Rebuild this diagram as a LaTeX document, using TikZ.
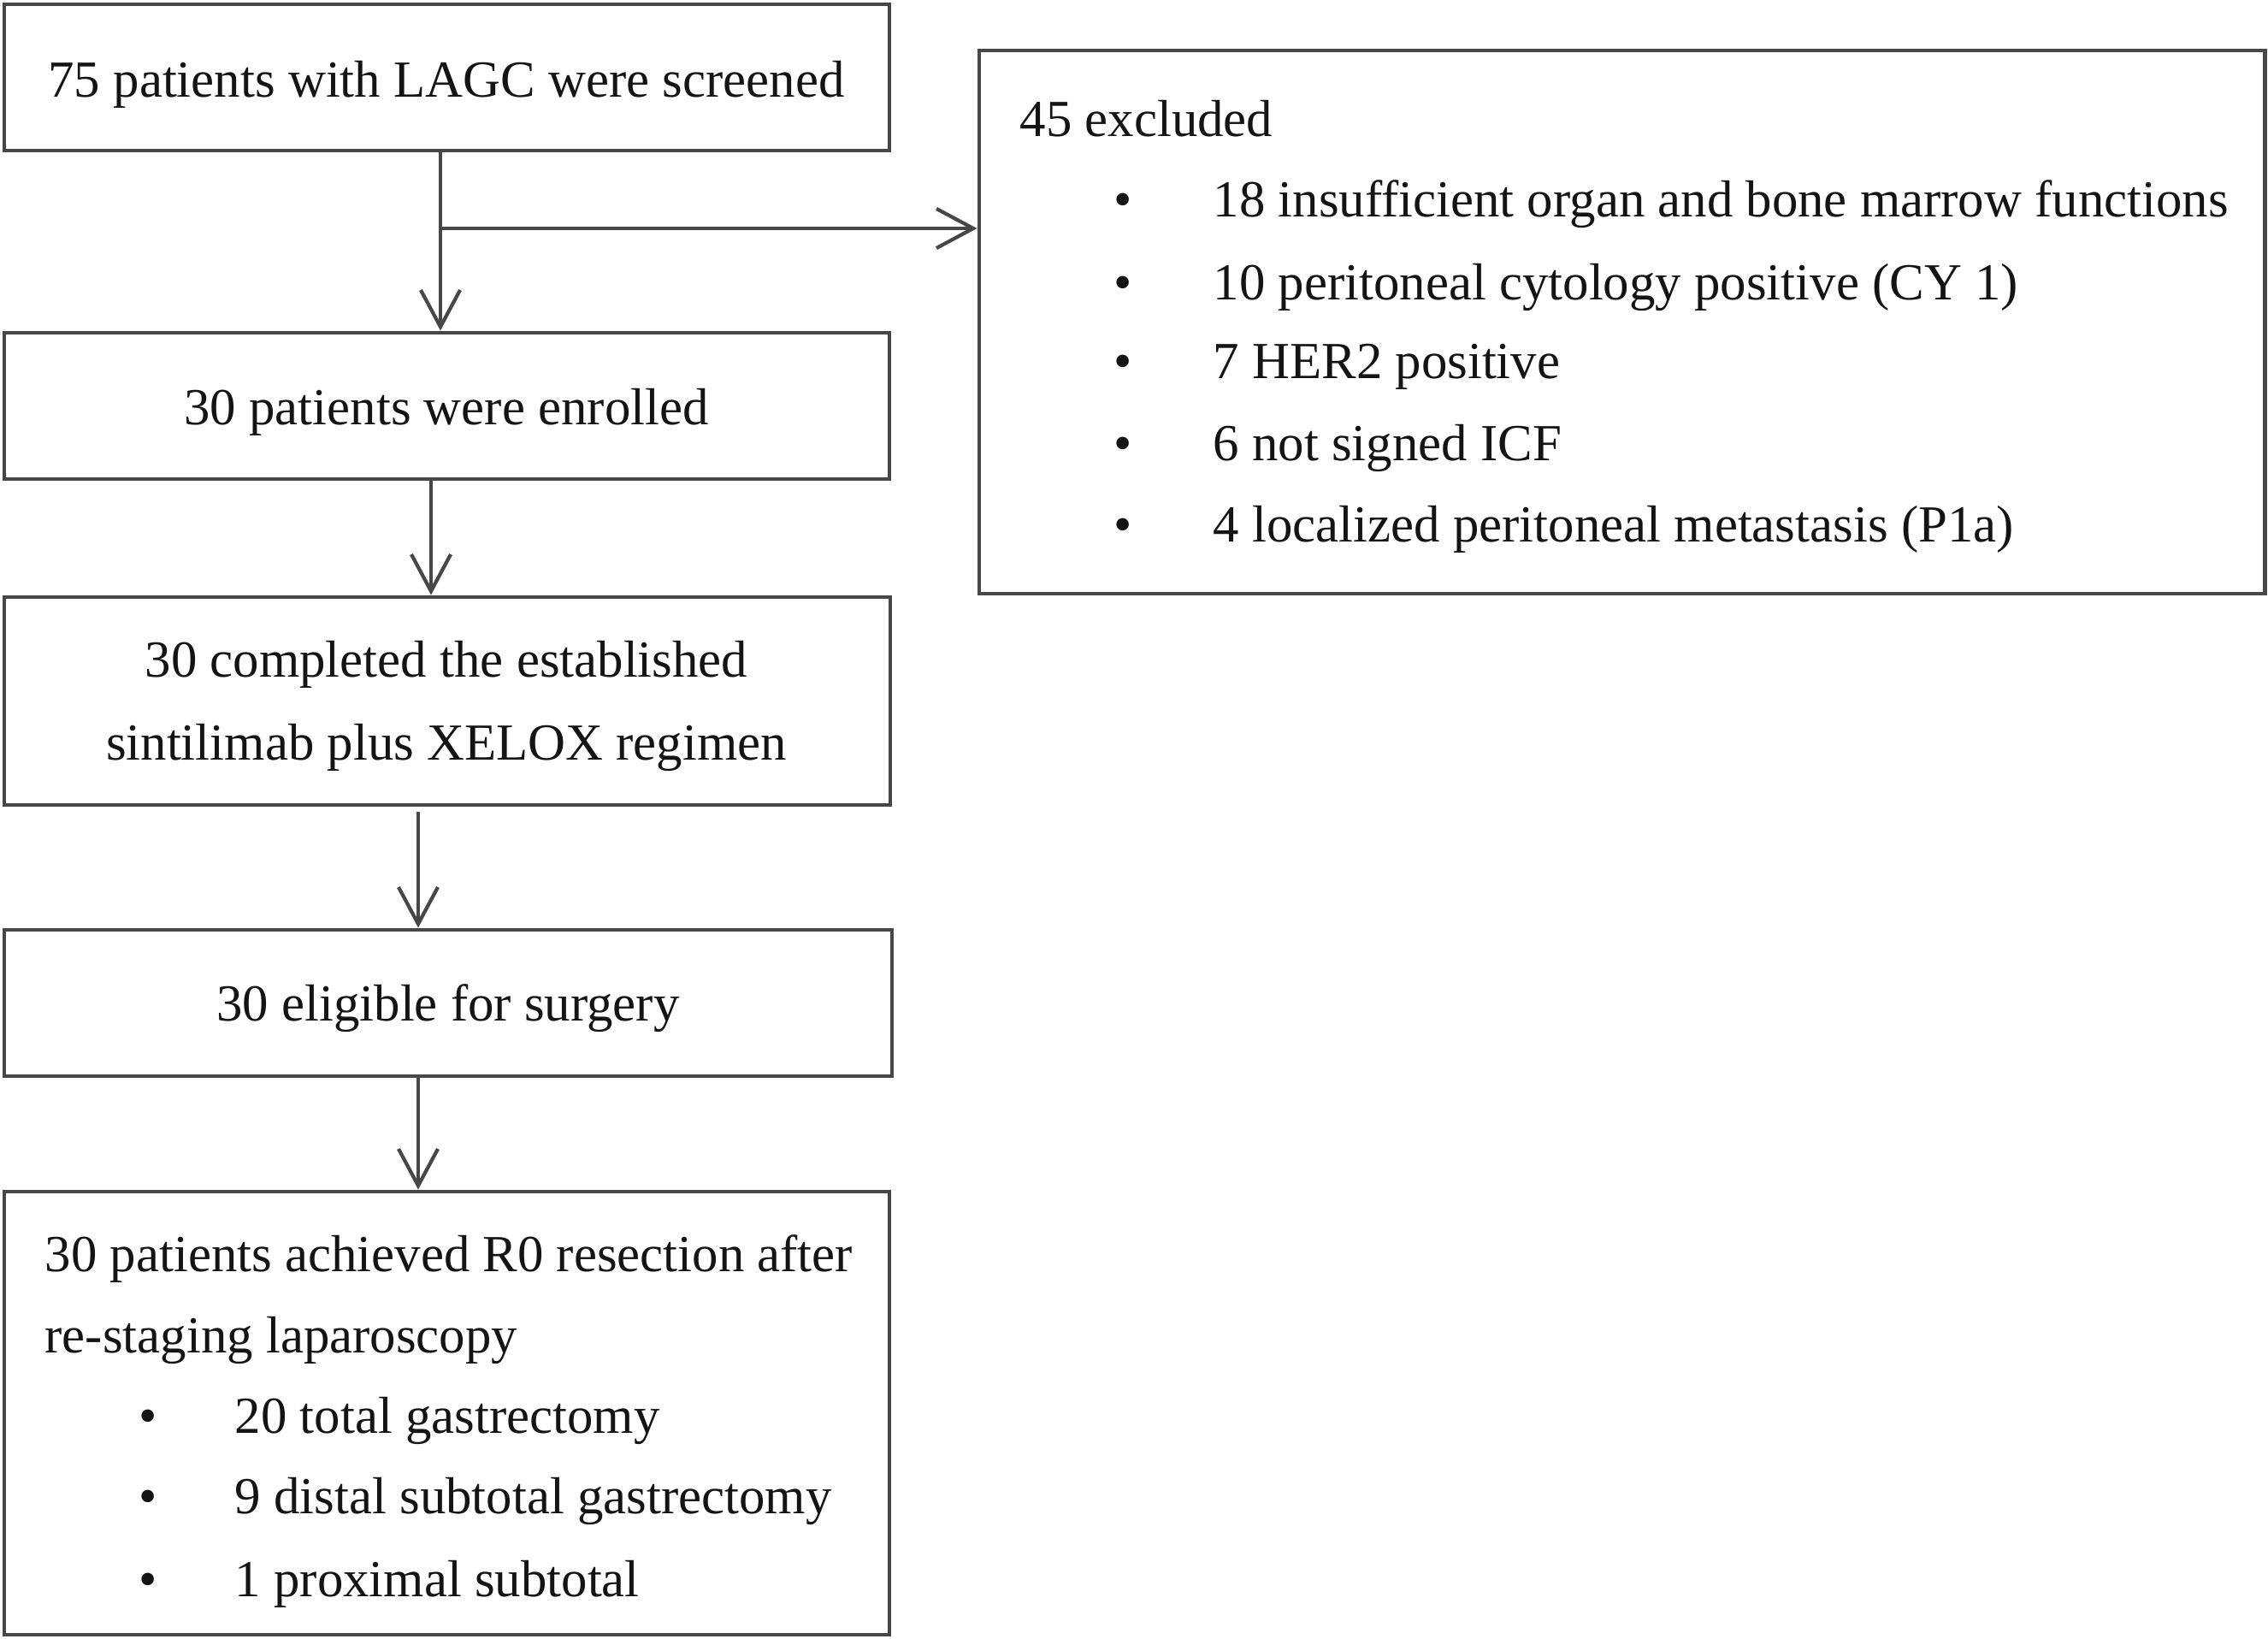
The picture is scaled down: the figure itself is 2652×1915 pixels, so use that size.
\documentclass[tikz,border=0pt]{standalone}
\usepackage{fontspec}
\setmainfont{Liberation Serif}
\usetikzlibrary{arrows.meta,fit}
\begin{document}
\begin{tikzpicture}[x=0.01cm,y=-0.01cm,
  box/.style={draw=black!72, line width=1.4pt, inner sep=0pt},
  txt/.style={font=\fontsize{17.3}{20}\selectfont, inner sep=0pt, text=black!92},
  arr/.style={draw=black!72, line width=1.2pt, -{Straight Barb[length=0.43cm, width=0.46cm]}}]
\useasboundingbox (0,0) rectangle (2652,1915);
% boxes
\node[box, fit={(5,5) (1040,176)}] (b1) {};
\node[box, fit={(1145,59) (2648,694)}] (ex) {};
\node[box, fit={(5,389) (1040,560)}] (b2) {};
\node[box, fit={(5,698) (1041,941)}] (b3) {};
\node[box, fit={(5,1087) (1043,1258)}] (b4) {};
\node[box, fit={(5,1393) (1040,1911)}] (b5) {};
% texts
\node[txt, anchor=base] (t1) at (522,113) {75 patients with LAGC were screened};
\node[txt, anchor=base] (t2) at (522,496) {30 patients were enrolled};
\node[txt, anchor=base] (t3a) at (522,791) {30 completed the established};
\node[txt, anchor=base] (t3b) at (522,888) {sintilimab plus XELOX regimen};
\node[txt, anchor=base] (t4) at (524,1193) {30 eligible for surgery};
\node[txt, anchor=base west] (t5a) at (52,1486) {30 patients achieved R0 resection after};
\node[txt, anchor=base west] (t5b) at (52,1581) {re-staging laparoscopy};
\node[txt, anchor=base] (d5c) at (173,1675) {•};
\node[txt, anchor=base west] (t5c) at (274,1675) {20 total gastrectomy};
\node[txt, anchor=base] (d5d) at (173,1769) {•};
\node[txt, anchor=base west] (t5d) at (274,1769) {9 distal subtotal gastrectomy};
\node[txt, anchor=base] (d5e) at (173,1866) {•};
\node[txt, anchor=base west] (t5e) at (274,1866) {1 proximal subtotal};
% excluded
\node[txt, anchor=base west] (e0) at (1192,159) {45 excluded};
\node[txt, anchor=base] (de1) at (1313,253) {•};
\node[txt, anchor=base west] (e1) at (1418,253) {18 insufficient organ and bone marrow functions};
\node[txt, anchor=base] (de2) at (1313,350) {•};
\node[txt, anchor=base west] (e2) at (1418,350) {10 peritoneal cytology positive (CY 1)};
\node[txt, anchor=base] (de3) at (1313,442) {•};
\node[txt, anchor=base west] (e3) at (1418,442) {7 HER2 positive};
\node[txt, anchor=base] (de4) at (1313,538) {•};
\node[txt, anchor=base west] (e4) at (1418,538) {6 not signed ICF};
\node[txt, anchor=base] (de5) at (1313,633) {•};
\node[txt, anchor=base west] (e5) at (1418,633) {4 localized peritoneal metastasis (P1a)};
% connectors
\coordinate (x1) at (515,0);
\coordinate (j1) at (515,267);
\coordinate (x2) at (504,0);
\coordinate (x3) at (489,949);
\draw[arr] (b1.south -| x1) -- (b2.north -| x1);
\draw[arr] (j1) -- (ex.west |- j1);
\draw[arr] (b2.south -| x2) -- (b3.north -| x2);
\draw[arr] (x3) -- (b4.north -| x3);
\draw[arr] (b4.south -| x3) -- (b5.north -| x3);
\end{tikzpicture}
\end{document}
